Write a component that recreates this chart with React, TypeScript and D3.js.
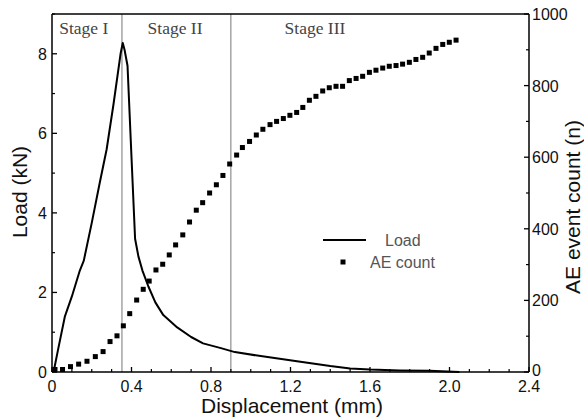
import React from "react";
import * as d3 from "d3";

const loadX = [0, 0.01, 0.03, 0.065, 0.1, 0.14, 0.16, 0.2, 0.24, 0.275, 0.31, 0.345, 0.356, 0.365, 0.38, 0.4, 0.418, 0.435, 0.455, 0.485, 0.52, 0.56, 0.63, 0.7, 0.76, 0.85, 0.92, 1.05, 1.25, 1.4, 1.5, 1.6, 1.75, 1.9, 2.05];
const loadY = [0, 0.05, 0.55, 1.4, 1.9, 2.55, 2.8, 3.75, 4.75, 5.6, 6.75, 8.0, 8.27, 8.1, 7.7, 5.4, 3.35, 2.9, 2.55, 2.15, 1.75, 1.43, 1.12, 0.88, 0.72, 0.6, 0.5, 0.4, 0.26, 0.15, 0.09, 0.06, 0.04, 0.03, 0.0];

const aeX = [0.015, 0.053, 0.093, 0.134, 0.176, 0.218, 0.257, 0.292, 0.327, 0.359, 0.391, 0.426, 0.459, 0.489, 0.523, 0.557, 0.59, 0.622, 0.658, 0.692, 0.726, 0.758, 0.793, 0.827, 0.86, 0.894, 0.929, 0.958, 0.994, 1.028, 1.061, 1.097, 1.13, 1.164, 1.197, 1.231, 1.262, 1.295, 1.328, 1.362, 1.395, 1.429, 1.462, 1.496, 1.53, 1.563, 1.597, 1.63, 1.664, 1.697, 1.731, 1.764, 1.798, 1.831, 1.865, 1.898, 1.932, 1.966, 1.999, 2.033];
const aeY = [7, 7, 15, 22, 30, 43, 57, 85, 101, 129, 163, 201, 231, 254, 285, 301, 327, 355, 383, 419, 452, 473, 500, 523, 549, 581, 606, 627, 644, 662, 678, 691, 700, 708, 717, 725, 739, 759, 770, 785, 794, 798, 798, 814, 820, 826, 837, 843, 849, 854, 856, 860, 865, 873, 879, 891, 904, 915, 921, 927];

const xMajor = [0, 0.4, 0.8, 1.2, 1.6, 2.0, 2.4];
const xMajorLabels = ["0", "0.4", "0.8", "1.2", "1.6", "2.0", "2.4"];
const xMinor = [0.1, 0.2, 0.3, 0.5, 0.6, 0.7, 0.9, 1.0, 1.1, 1.3, 1.4, 1.5, 1.7, 1.8, 1.9, 2.1, 2.2, 2.3];
const yLMajor = [0, 2, 4, 6, 8];
const yLMinor = [1, 3, 5, 7, 9];
const yRMajor = [0, 200, 400, 600, 800, 1000];
const yRMinor = [100, 300, 500, 700, 900];

const stageLines = [0.352, 0.9];
const stageLabels = ["Stage I", "Stage II", "Stage III"];
const stageLabelX = [0.16, 0.619, 1.323];

export default function App() {
  const L = 52, R = 529, T = 14, B = 372;
  const x = d3.scaleLinear().domain([0, 2.4]).range([L, R]);
  const yL = d3.scaleLinear().domain([0, 9]).range([B, T]);
  const yR = d3.scaleLinear().domain([0, 1000]).range([B, T]);
  const line = d3.line<number>().x((_, i) => x(loadX[i])).y((d) => yL(d));
  const font = "Arial, 'Liberation Sans', sans-serif";
  const serif = "'Times New Roman', 'Liberation Serif', serif";

  return (
    <svg width={584} height={420} style={{ position: "absolute", left: 0, top: 0, background: "#fff" }}>
      <rect width={584} height={420} fill="#fff" />
      {stageLines.map((s, i) => (
        <line key={i} x1={x(s)} x2={x(s)} y1={T} y2={B} stroke="#777" strokeWidth={1} />
      ))}
      {stageLabels.map((s, i) => (
        <text key={i} x={x(stageLabelX[i])} y={34} textAnchor="middle" fontFamily={serif} fontSize={17.5} fill="#444">{s}</text>
      ))}
      <path d={line(loadY) || ""} fill="none" stroke="#000" strokeWidth={2} strokeLinejoin="round" />
      {aeY.map((v, i) => (
        <rect key={i} x={x(aeX[i]) - 2.5} y={yR(v) - 2.5} width={5} height={5} fill="#000" />
      ))}
      {/* frame */}
      <line x1={L} x2={R} y1={T} y2={T} stroke="#000" strokeWidth={1.5} />
      <line x1={L} x2={R} y1={B} y2={B} stroke="#000" strokeWidth={1.5} />
      <line x1={L} x2={L} y1={T} y2={B} stroke="#000" strokeWidth={1.5} />
      <line x1={R} x2={R} y1={T} y2={B} stroke="#000" strokeWidth={1.5} />
      {/* x ticks */}
      {xMajor.map((t, i) => (
        <g key={i}>
          <line x1={x(t)} x2={x(t)} y1={B} y2={B - 5} stroke="#000" strokeWidth={1.3} />
          <text x={x(t)} y={392} textAnchor="middle" fontFamily={font} fontSize={16} fill="#111">{xMajorLabels[i]}</text>
        </g>
      ))}
      {xMinor.map((t, i) => (
        <line key={i} x1={x(t)} x2={x(t)} y1={B} y2={B - 3} stroke="#000" strokeWidth={1.2} />
      ))}
      {/* left ticks */}
      {yLMajor.map((t, i) => (
        <g key={i}>
          <line x1={L} x2={L + 5} y1={yL(t)} y2={yL(t)} stroke="#000" strokeWidth={1.3} />
          <text x={47} y={yL(t) + 6} textAnchor="end" fontFamily={font} fontSize={16} fill="#111">{t}</text>
        </g>
      ))}
      {yLMinor.map((t, i) => (
        <line key={i} x1={L} x2={L + 3} y1={yL(t)} y2={yL(t)} stroke="#000" strokeWidth={1.2} />
      ))}
      {/* right ticks */}
      {yRMajor.map((t, i) => (
        <g key={i}>
          <line x1={R} x2={R - 5} y1={yR(t)} y2={yR(t)} stroke="#000" strokeWidth={1.3} />
          <text x={532} y={yR(t) + (t === 0 ? 4 : 6)} textAnchor="start" fontFamily={font} fontSize={16} fill="#111">{t}</text>
        </g>
      ))}
      {yRMinor.map((t, i) => (
        <line key={i} x1={R} x2={R - 3} y1={yR(t)} y2={yR(t)} stroke="#000" strokeWidth={1.2} />
      ))}
      {/* titles */}
      <text x={292} y={413} textAnchor="middle" fontFamily={font} fontSize={21} fill="#111">Displacement (mm)</text>
      <text transform="translate(27,192) rotate(-90)" textAnchor="middle" fontFamily={font} fontSize={21} fill="#111">Load (kN)</text>
      <text transform="translate(580,207) rotate(-90)" textAnchor="middle" fontFamily={font} fontSize={21} fill="#111">AE event count (n)</text>
      {/* legend */}
      <line x1={323} x2={366} y1={240} y2={240} stroke="#000" strokeWidth={2} />
      <text x={385} y={246} fontFamily={font} fontSize={16} fill="#555">Load</text>
      <rect x={340.5} y={259.5} width={5} height={5} fill="#000" />
      <text x={370} y={268} fontFamily={font} fontSize={16} fill="#555">AE count</text>
    </svg>
  );
}
